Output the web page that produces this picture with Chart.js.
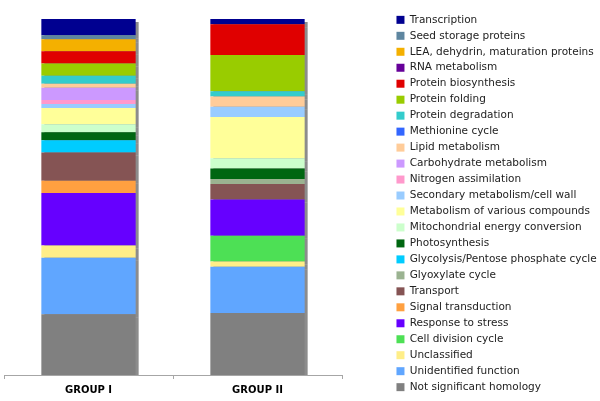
<!DOCTYPE html>
<html>
<head>
<meta charset="utf-8">
<script src="https://cdn.jsdelivr.net/npm/chart.js@4"></script>
<style>
  html, body { margin: 0; padding: 0; background: #fff; }
  #wrap { width: 600px; height: 401px; }
</style>
</head>
<body>
<div id="wrap"><canvas id="chart1"></canvas></div>
<script>
// Functional categories, listed top of the stack first (same order as the legend)
const groups = ['GROUP I', 'GROUP II'];
const categories = [
    'Transcription', 'Seed storage proteins', 'LEA, dehydrin, maturation proteins',
    'RNA metabolism', 'Protein biosynthesis', 'Protein folding', 'Protein degradation',
    'Methionine cycle', 'Lipid metabolism', 'Carbohydrate metabolism', 'Nitrogen assimilation',
    'Secondary metabolism/cell wall', 'Metabolism of various compounds',
    'Mitochondrial energy conversion', 'Photosynthesis', 'Glycolysis/Pentose phosphate cycle',
    'Glyoxylate cycle', 'Transport', 'Signal transduction', 'Response to stress',
    'Cell division cycle', 'Unclassified', 'Unidentified function', 'Not significant homology'
];
// number of proteins per category
const groupOne = [4, 1, 3, 0, 3, 3, 2, 0, 1, 3, 1, 1, 4, 2, 2, 3, 0, 7, 3, 13, 0, 3, 14, 15];
const groupTwo = [1, 0, 0, 0, 6, 7, 1, 0, 2, 0, 0, 2, 8, 2, 2, 0, 1, 3, 0, 7, 5, 1, 9, 12];
const colours = [
    '#000090', '#5e86a0', '#f4b000', '#660099', '#e00000', '#99cc00', '#33cccc',
    '#3366ff', '#ffcc99', '#cc99ff', '#ff99cc', '#99ccff', '#ffff99', '#ccffcc',
    '#006611', '#00ccff', '#9bb391', '#855454', '#ffa040', '#6600ff', '#4de055',
    '#ffee88', '#60a6ff', '#808080'
];

const totalOne = groupOne.reduce((a, b) => a + b, 0);
const totalTwo = groupTwo.reduce((a, b) => a + b, 0);

// Bottom of the stack is drawn first, so build datasets in reverse
var datasets = [];
for (let i = categories.length - 1; i >= 0; i--) {
    datasets.push({
        label: categories[i],
        data: [groupOne[i] / totalOne * 100, groupTwo[i] / totalTwo * 100],
        backgroundColor: colours[i],
        borderWidth: 0,
        xAxisID: 'x',
        yAxisID: 'y'
    });
}

// grey drop shadow on the right of the bars
const barShadow = {
    id: 'barShadow',
    beforeDatasetsDraw(chart) {
        const c = chart.ctx;
        c.save();
        c.shadowColor = 'rgba(0,0,0,0.45)';
        c.shadowOffsetX = 3;
        c.shadowOffsetY = 3;
        c.shadowBlur = 0;
    },
    afterDatasetsDraw(chart) {
        chart.ctx.restore();
    }
};

new Chart(document.getElementById('chart1'), {
    type: 'bar',
    data: { labels: groups, datasets: datasets },
    plugins: [barShadow],
    options: {
        responsive: true,
        maintainAspectRatio: false,
        animation: false,
        layout: { padding: { left: 4, top: 6, right: 3, bottom: 0 } },
        datasets: {
            bar: { categoryPercentage: 1, barPercentage: 0.558 }
        },
        scales: {
            x: {
                stacked: true,
                position: 'bottom',
                grid: { display: true, drawOnChartArea: false, drawTicks: true, tickLength: 4, color: '#a6a6a6', offset: true },
                border: { display: true, color: '#a6a6a6' },
                ticks: { color: '#000', padding: 5, font: { family: 'DejaVu Sans', size: 10, weight: 'bold' } },
                afterFit(s) { s.height = 26; }
            },
            y: {
                stacked: true,
                display: false,
                min: 0,
                max: 100
            },
            padTop: {
                type: 'linear',
                position: 'top',
                grid: { display: false },
                border: { display: false },
                ticks: { display: false },
                afterFit(s) { s.height = 13; }
            },
            padRight: {
                type: 'linear',
                position: 'right',
                grid: { display: false },
                border: { display: false },
                ticks: { display: false },
                afterFit(s) { s.width = 49; }
            }
        },
        plugins: {
            tooltip: { enabled: false },
            legend: {
                position: 'right',
                reverse: true,
                maxWidth: 206,
                labels: {
                    boxWidth: 8,
                    boxHeight: 8,
                    padding: 5.47,
                    color: '#222',
                    font: { family: 'DejaVu Sans', size: 10.5 }
                }
            }
        }
    }
});
</script>
</body>
</html>
